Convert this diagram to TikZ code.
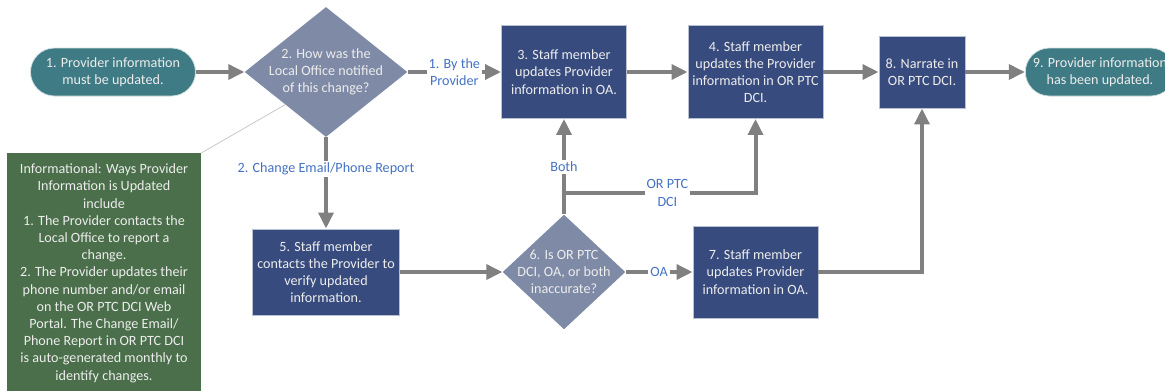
\documentclass[tikz,border=0pt]{standalone}
\usepackage{fontspec}
\setmainfont{Carlito}
\usetikzlibrary{arrows.meta}
\usetikzlibrary{shapes.geometric}
\definecolor{termteal}{HTML}{3F7B84}
\definecolor{decgray}{HTML}{7E8AA6}
\definecolor{stepnavy}{HTML}{374B7E}
\definecolor{notegreen}{HTML}{4A6F4A}
\definecolor{flowgray}{HTML}{808080}
\definecolor{lblblue}{HTML}{4472C4}

\begin{document}
\begin{tikzpicture}[x=0.75pt,y=-0.75pt,>={Triangle[length=12pt,width=11pt]},
    font=\fontsize{10.6}{12.9}\selectfont,
    every node/.style={align=center,text=white!93!black},
    term/.style={fill=termteal,draw=white!75!termteal,line width=0.6pt,
      rounded corners=18pt,minimum height=36pt,inner sep=2pt},
    decision/.style={diamond,fill=decgray,inner sep=0pt},
    stepbox/.style={rectangle,fill=stepnavy,draw=white!65!stepnavy,line width=0.6pt,inner sep=2pt},
    flow/.style={color=flowgray,line width=3pt},
    lbl/.style={fill=white,text=lblblue,inner sep=1.5pt}]
   \useasboundingbox (0,0) rectangle (1165,390);
   % start and end
   \node[term,minimum width=123.75pt] (q_1) at (113,72) {1. Provider information\\must be updated.};
   \node[term,minimum width=112pt]    (q_9) at (1100,72) {9. Provider information\\has been updated.};
   % decisions
   \node[decision,minimum width=122pt,minimum height=97.5pt] (q_2) at (326,72) {};
   \node (t_2) at (q_2) {2. How was the\\Local Office notified\\of this change?};
   \node[decision,minimum width=92pt,minimum height=86pt] (q_6) at (564,272) {};
   \node (t_6) at (q_6) {6. Is OR PTC\\DCI, OA, or both\\inaccurate?};
   % steps
   \node[stepbox,minimum width=93.75pt,minimum height=69.75pt] (q_3) at (564,72) {3. Staff member\\updates Provider\\information in OA.};
   \node[stepbox,minimum width=101.25pt,minimum height=69.75pt] (q_4) at (755.5,72) {4. Staff member\\updates the Provider\\information in OR PTC\\DCI.};
   \node[stepbox,minimum width=110.25pt,minimum height=64.5pt] (q_5) at (326,272) {5. Staff member\\contacts the Provider to\\verify updated\\information.};
   \node[stepbox,minimum width=93.75pt,minimum height=69pt] (q_7) at (755.5,272) {7. Staff member\\updates Provider\\information in OA.};
   \node[stepbox,minimum width=64.5pt,minimum height=54pt] (q_8) at (922,72) {8. Narrate in\\OR PTC DCI.};
   % note
   \node[fill=notegreen,anchor=north,minimum width=145.5pt,inner ysep=8pt] (n_1) at (104,153)
     {Informational: Ways Provider\\Information is Updated\\include\\1. The Provider contacts the\\Local Office to report a\\change.\\2. The Provider updates their\\phone number and/or email\\on the OR PTC DCI Web\\Portal. The Change Email/\\Phone Report in OR PTC DCI\\is auto-generated monthly to\\identify changes.};
   \draw[white!78!black,line width=0.6pt] (n_1.north east) -- (q_2.south west);
   % connectors
   \coordinate (b_1) at (564,193);
   \path[flow,->] (q_1) edge (q_2)
                  (q_2) edge node[lbl] {1. By the\\Provider} (q_3)
                        edge node[lbl,pos=0.35] {2. Change Email/Phone Report} (q_5)
                  (q_3) edge (q_4)
                  (q_4) edge (q_8)
                  (q_8) edge (q_9)
                  (q_5) edge (q_6)
                  (q_6) edge node[lbl] {OA} (q_7)
                        edge node[lbl] {Both} (q_3);
   \draw[flow,->] (b_1) -| node[lbl,pos=0.27] {OR PTC\\DCI} (q_4);
   \draw[flow,->] (q_7) -| (q_8);
\end{tikzpicture}
\end{document}
